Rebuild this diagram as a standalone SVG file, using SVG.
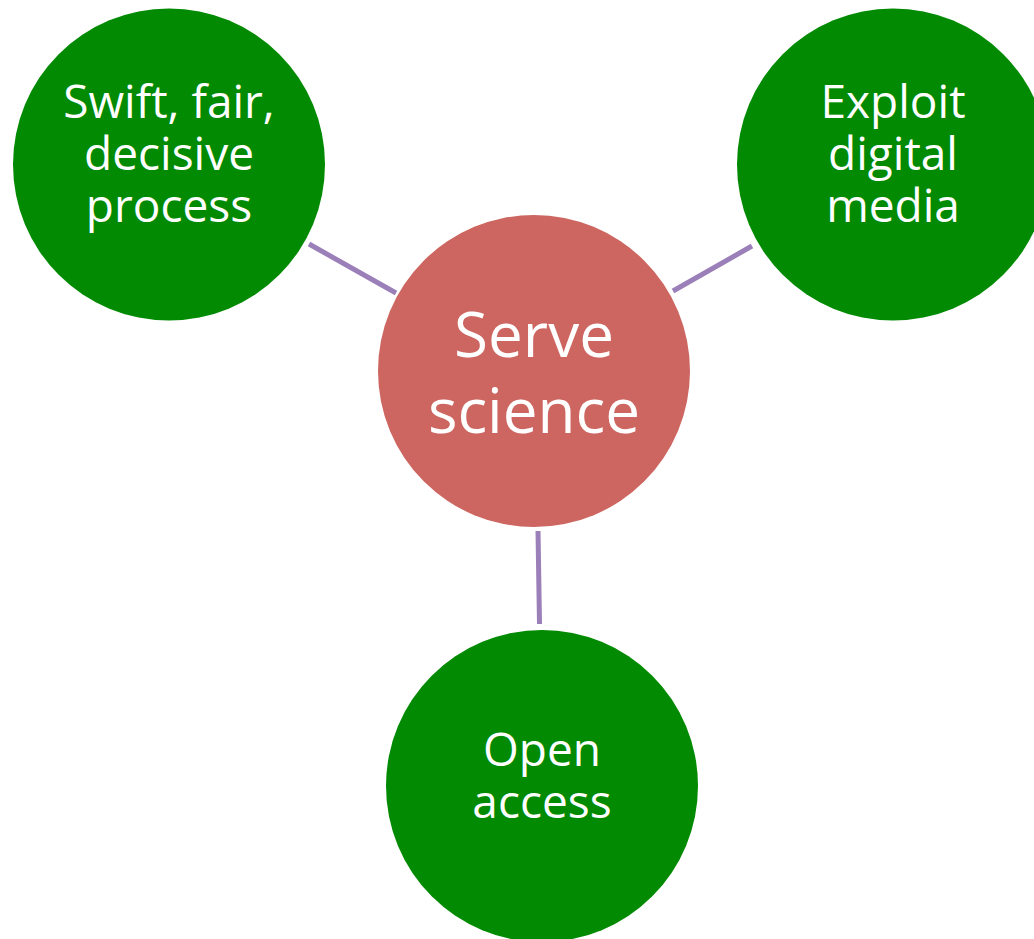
<svg xmlns="http://www.w3.org/2000/svg" width="1034" height="939" viewBox="0 0 1034 939">
<style>
.g{fill:#018A02}
.r{fill:#CD6660}
.t{fill:#fff;font-family:"Open Sans","Liberation Sans",sans-serif;text-anchor:middle}
.s{font-size:46px}
.b{font-size:62px}
.c{stroke:#9B7FB8;stroke-width:5;fill:none}
</style>
<rect width="1034" height="939" fill="#fff"/>
<g id="connectors">
<line class="c" x1="309" y1="244" x2="396" y2="293"/>
<line class="c" x1="673" y1="291" x2="752" y2="246"/>
<line class="c" x1="538" y1="531" x2="539.5" y2="624"/>
</g>
<g id="center">
<circle class="r" cx="534" cy="371" r="156"/>
<text class="t b" x="534" y="357">Serve</text>
<text class="t b" x="534" y="433">science</text>
</g>
<g id="swift">
<circle class="g" cx="169" cy="164.5" r="156"/>
<text class="t s" x="169" y="118">Swift, fair,</text>
<text class="t s" x="169" y="170">decisive</text>
<text class="t s" x="169" y="222">process</text>
</g>
<g id="exploit">
<circle class="g" cx="893" cy="164.5" r="156"/>
<text class="t s" x="893" y="118">Exploit</text>
<text class="t s" x="893" y="170">digital</text>
<text class="t s" x="893" y="222">media</text>
</g>
<g id="open">
<circle class="g" cx="542" cy="786" r="156"/>
<text class="t s" x="542" y="766">Open</text>
<text class="t s" x="542" y="818">access</text>
</g>
</svg>
